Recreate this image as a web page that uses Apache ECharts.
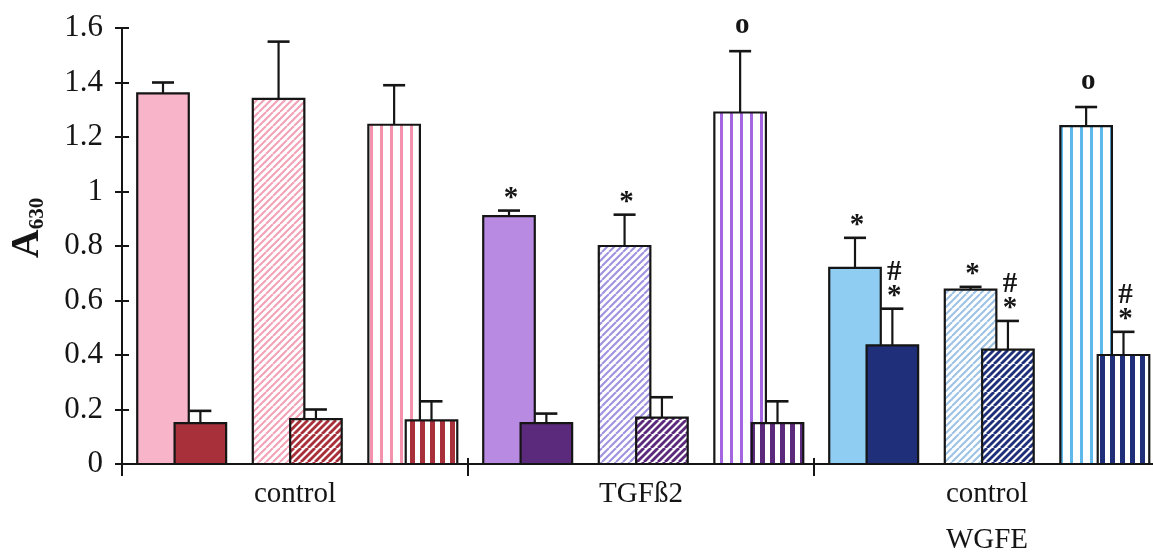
<!DOCTYPE html>
<html>
<head>
<meta charset="utf-8">
<script src="https://cdn.jsdelivr.net/npm/echarts@6/dist/echarts.min.js"></script>
<style>
  html, body { margin: 0; padding: 0; background: #fff; }
  #chart { width: 1153px; height: 555px; }
</style>
</head>
<body>
<div id="chart"></div>
<script>
// Groups along the x axis
const groups = ['control', 'TGFß2', 'control\nWGFE'];

// Y axis range (A630)
const yMin = 0;
const yMax = 1.6;
const yStep = 0.2;

// Mean absorbance and error per condition, one entry per group
const paleSolid = [1.36, 0.91, 0.72];
const paleSolidErr = [0.04, 0.02, 0.11];
const darkSolid = [0.15, 0.15, 0.435];
const darkSolidErr = [0.045, 0.035, 0.135];

const paleHatch = [1.34, 0.80, 0.64];
const paleHatchErr = [0.21, 0.115, 0.01];
const darkHatch = [0.165, 0.17, 0.42];
const darkHatchErr = [0.035, 0.075, 0.105];

const paleStripe = [1.245, 1.29, 1.24];
const paleStripeErr = [0.145, 0.225, 0.07];
const darkStripe = [0.16, 0.15, 0.40];
const darkStripeErr = [0.07, 0.08, 0.085];

// Significance marks above the error bars
const paleSolidMarks = ['', '*', '*'];
const darkSolidMarks = ['', '', '#\n*'];
const paleHatchMarks = ['', '*', '*'];
const darkHatchMarks = ['', '', '#\n*'];
const paleStripeMarks = ['', 'o', 'o'];
const darkStripeMarks = ['', '', '#\n*'];

// Colours per group: pink / purple / blue families
const paleFill = ['#f8b4c9', '#b98ae2', '#8fcdf2'];
const darkFill = ['#a8303a', '#5c2a7c', '#1f2f7a'];
const paleHatchInk = ['#f3a2b6', '#9f92e0', '#9ec2e6'];
const paleStripeInk = ['#f492ad', '#a466e0', '#5eb8ec'];

const SERIF = '"Liberation Serif", "Times New Roman", serif';

function hatchTile(color, lineWidth, period) {
  const s = period * 2;
  const c = document.createElement('canvas');
  c.width = s; c.height = s;
  const ctx = c.getContext('2d');
  ctx.fillStyle = '#ffffff';
  ctx.fillRect(0, 0, s, s);
  ctx.strokeStyle = color;
  ctx.lineWidth = lineWidth;
  for (let k = -3; k <= 3; k++) {
    ctx.beginPath();
    ctx.moveTo(k * period, s);
    ctx.lineTo(k * period + s, 0);
    ctx.stroke();
  }
  return { image: c, repeat: 'repeat' };
}

function stripeTile(color, width, period) {
  const c = document.createElement('canvas');
  c.width = period; c.height = 4;
  const ctx = c.getContext('2d');
  ctx.fillStyle = '#ffffff';
  ctx.fillRect(0, 0, period, 4);
  ctx.fillStyle = color;
  ctx.fillRect(0, 0, width, 4);
  return { image: c, repeat: 'repeat' };
}

const fills = {
  paleSolid: paleFill,
  darkSolid: darkFill,
  paleHatch: paleHatchInk.map(c => hatchTile(c, 2, 7)),
  darkHatch: darkFill.map(c => hatchTile(c, 2.8, 7)),
  paleStripe: paleStripeInk.map(c => stripeTile(c, 3, 10)),
  darkStripe: darkFill.map(c => stripeTile(c, 5, 10))
};

// Bar layout inside each category band (fractions of the band width)
const BAR_START = 0.044;
const PAIR_STEP = 0.334;
const DARK_SHIFT = 0.108;
const BAR_W = 0.149;

function barSeries(name, values, errs, marks, slot, dark, fillList) {
  return {
    type: 'custom',
    name: name,
    z: dark ? 4 : 3,
    data: values.map((v, i) => [i, v, errs[i]]),
    encode: { x: 0, y: 1 },
    renderItem: function (params, api) {
      const i = params.dataIndex;
      const v = api.value(1);
      const e = api.value(2);
      const band = api.size([1, 0])[0];
      const base = api.coord([i, 0]);
      const left = base[0] - band / 2 + band * (BAR_START + slot * PAIR_STEP + (dark ? DARK_SHIFT : 0));
      const w = band * BAR_W;
      const top = api.coord([i, v])[1];
      const capY = api.coord([i, v + e])[1];
      const cx = left + w / 2;
      const children = [
        {
          type: 'rect',
          shape: { x: left, y: top, width: w, height: base[1] - top },
          style: { fill: fillList[i], stroke: '#151515', lineWidth: 2.2 }
        },
        {
          type: 'line',
          shape: { x1: cx, y1: top, x2: cx, y2: capY },
          style: { stroke: '#151515', lineWidth: 2.2 }
        },
        {
          type: 'line',
          shape: { x1: cx - 11, y1: capY, x2: cx + 11, y2: capY },
          style: { stroke: '#151515', lineWidth: 2.6 }
        }
      ];
      const m = marks[i];
      if (m) {
        children.push({
          type: 'text',
          x: cx + 2,
          y: capY - (m === 'o' ? 14 : 0),
          style: {
            text: m,
            fontFamily: SERIF,
            fontWeight: 'bold',
            fontSize: 29,
            lineHeight: 24,
            fill: '#151515',
            align: 'center',
            verticalAlign: 'bottom'
          }
        });
      }
      return { type: 'group', children: children };
    }
  };
}

const chart = echarts.init(document.getElementById('chart'), null, { renderer: 'canvas' });

chart.setOption({
  backgroundColor: '#ffffff',
  animation: false,
  grid: { left: 122, right: -7, top: 28, bottom: 91, outerBoundsMode: 'none', containLabel: false },
  xAxis: [
    {
      type: 'category',
      data: groups,
      boundaryGap: true,
      axisLine: { show: true, lineStyle: { color: '#151515', width: 2 } },
      axisTick: { show: true, length: 12, lineStyle: { color: '#151515', width: 2 } },
      axisLabel: {
        show: true,
        margin: 7,
        fontFamily: SERIF,
        fontSize: 29,
        lineHeight: 46,
        color: '#151515'
      },
      splitLine: { show: false }
    },
    {
      type: 'category',
      data: groups,
      boundaryGap: true,
      position: 'bottom',
      axisLine: { show: false },
      axisTick: { show: true, inside: true, length: 6, lineStyle: { color: '#151515', width: 2 } },
      axisLabel: { show: false },
      splitLine: { show: false }
    }
  ],
  yAxis: [
    {
      type: 'value',
      min: yMin,
      max: yMax,
      interval: yStep,
      axisLine: { show: true, lineStyle: { color: '#151515', width: 2 } },
      axisTick: { show: true, length: 7, lineStyle: { color: '#151515', width: 2 } },
      axisLabel: {
        show: true,
        margin: 19,
        fontFamily: SERIF,
        fontSize: 31,
        color: '#151515'
      },
      splitLine: { show: false }
    },
    {
      type: 'value',
      min: yMin,
      max: yMax,
      interval: yStep,
      position: 'left',
      axisLine: { show: false },
      axisTick: { show: true, inside: true, length: 7, lineStyle: { color: '#151515', width: 2 } },
      axisLabel: { show: false },
      splitLine: { show: false }
    }
  ],
  graphic: [
    {
      type: 'text',
      x: 28,
      y: 228,
      rotation: Math.PI / 2,
      style: {
        text: '{a|A}{s|630}',
        align: 'center',
        verticalAlign: 'middle',
        fill: '#151515',
        rich: {
          a: { fontFamily: SERIF, fontWeight: 'bold', fontSize: 40, fill: '#151515' },
          s: { fontFamily: SERIF, fontWeight: 'bold', fontSize: 21, fill: '#151515', verticalAlign: 'bottom' }
        }
      }
    }
  ],
  series: [
    barSeries('paleSolid', paleSolid, paleSolidErr, paleSolidMarks, 0, false, fills.paleSolid),
    barSeries('darkSolid', darkSolid, darkSolidErr, darkSolidMarks, 0, true, fills.darkSolid),
    barSeries('paleHatch', paleHatch, paleHatchErr, paleHatchMarks, 1, false, fills.paleHatch),
    barSeries('darkHatch', darkHatch, darkHatchErr, darkHatchMarks, 1, true, fills.darkHatch),
    barSeries('paleStripe', paleStripe, paleStripeErr, paleStripeMarks, 2, false, fills.paleStripe),
    barSeries('darkStripe', darkStripe, darkStripeErr, darkStripeMarks, 2, true, fills.darkStripe)
  ]
});
</script>
</body>
</html>
